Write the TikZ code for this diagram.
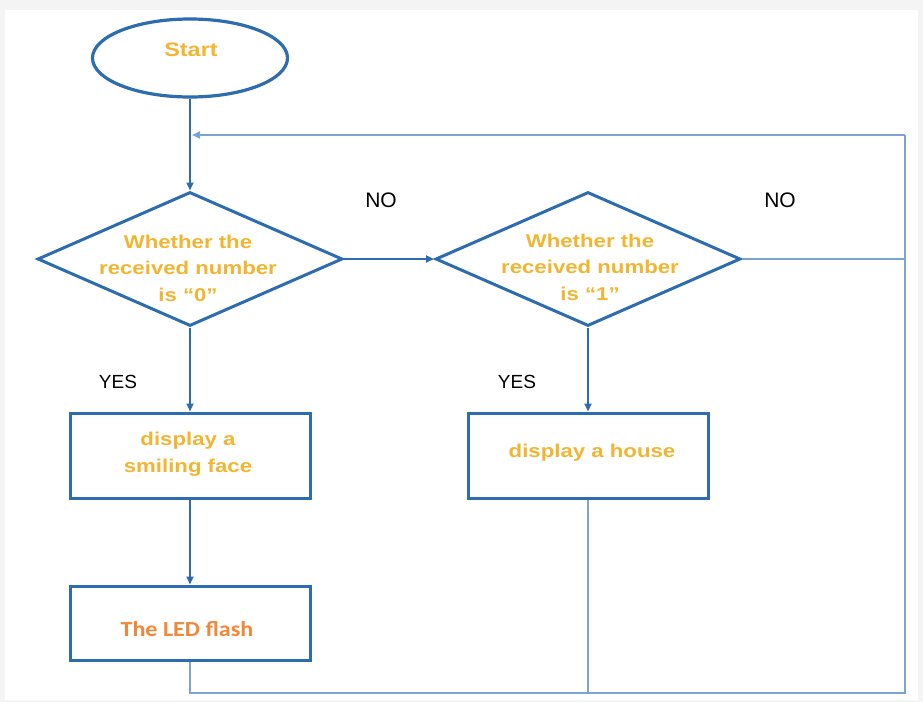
\documentclass[tikz,border=0pt]{standalone}
\usepackage{fontspec}
\setmainfont{Liberation Sans}
\newfontfamily\boxfont[FakeStretch=1.2]{Liberation Sans}
\newfontfamily\ledfont[FakeStretch=1.12]{Carlito}
\usetikzlibrary{shapes.geometric,arrows.meta}
\definecolor{strokeblue}{HTML}{2C6CAF}
\definecolor{thinblue}{HTML}{7BA3D3}
\definecolor{txtyellow}{HTML}{F2B532}
\definecolor{txtorange}{HTML}{F0883A}
\definecolor{bggray}{HTML}{F4F4F4}
\tikzset{
  shapeline/.style={draw=strokeblue, line width=3pt},
  procbox/.style={shapeline, rectangle, minimum width=240pt, minimum height=85pt, inner sep=0pt},
  decbox/.style={shapeline, diamond, aspect=2.28, minimum width=305pt, minimum height=134pt, inner sep=0pt},
  ytext/.style={font=\boxfont\bfseries\fontsize{18.5}{26.5}\selectfont, text=txtyellow, align=center, inner sep=0pt},
  lbl/.style={font=\fontsize{19}{22}\selectfont, text=black, inner sep=0pt},
  flowarrow/.style={draw=strokeblue, line width=2.6pt, -{Triangle[length=8pt,width=7pt]}},
  thinline/.style={draw=thinblue, line width=2pt},
}
\begin{document}
\begin{tikzpicture}[x=1pt,y=-1pt]
\fill[bggray] (0,0) rectangle (923,702);
\fill[white] (5,10) rectangle (918,700);
\useasboundingbox (0,0) rectangle (923,702);

% nodes
\node[shapeline, line width=3.2pt, ellipse, minimum width=195pt, minimum height=78pt, inner sep=0pt] (start) at (190,58) {};
\node[ytext, font=\boxfont\bfseries\fontsize{19.5}{22}\selectfont] (starttxt) at (191,50) {Start};

\node[decbox] (d1) at (190,259) {};
\node[ytext] (d1txt) at (188,268) {Whether the\\received number\\is “0”};

\node[decbox] (d2) at (588,259) {};
\node[ytext] (d2txt) at (590,267) {Whether the\\received number\\is “1”};

\node[procbox] (b1) at (190,455.5) {};
\node[ytext] (b1txt) at (188,454) {display a\\smiling face};

\node[procbox] (b2) at (588,455.5) {};
\node[ytext] (b2txt) at (592,453) {display a house};

\node[procbox, minimum height=74pt] (b3) at (190,623) {};
\node[font=\ledfont\bfseries\fontsize{21.5}{24}\selectfont, text=txtorange, inner sep=0pt] (b3txt) at (187,629) {The LED flash};

% labels
\node[lbl, font=\fontsize{21}{24}\selectfont] (no1) at (381,200) {NO};
\node[lbl, font=\fontsize{21}{24}\selectfont] (no2) at (780,200) {NO};
\node[lbl] (yes1) at (118,382) {YES};
\node[lbl] (yes2) at (517,382) {YES};

% coordinates
\coordinate (join) at (190,135);
\coordinate (rtop) at (905,135);
\coordinate (rmid) at (905,259);
\coordinate (rbot) at (905,693);
\coordinate (lbot) at (190,693);
\coordinate (mbot) at (588,693);

% thin loop lines
\draw[thinline] (d2.east) -- (rmid) -- (rtop);
\draw[thinline, -{Triangle[length=8pt,width=7pt]}, shorten >=-1pt] (rtop) -- ([xshift=3pt]join);
\draw[thinline] (b3.south) -- (lbot) -- (rbot) -- (rmid);
\draw[thinline] (b2.south) -- (mbot);

% main arrows
\draw[flowarrow] (start.south) -- (d1.north);
\draw[flowarrow] (d1.east) -- (d2.west);
\draw[flowarrow] (d1.south) -- (b1.north);
\draw[flowarrow] (b1.south) -- (b3.north);
\draw[flowarrow] (d2.south) -- (b2.north);
\end{tikzpicture}
\end{document}
